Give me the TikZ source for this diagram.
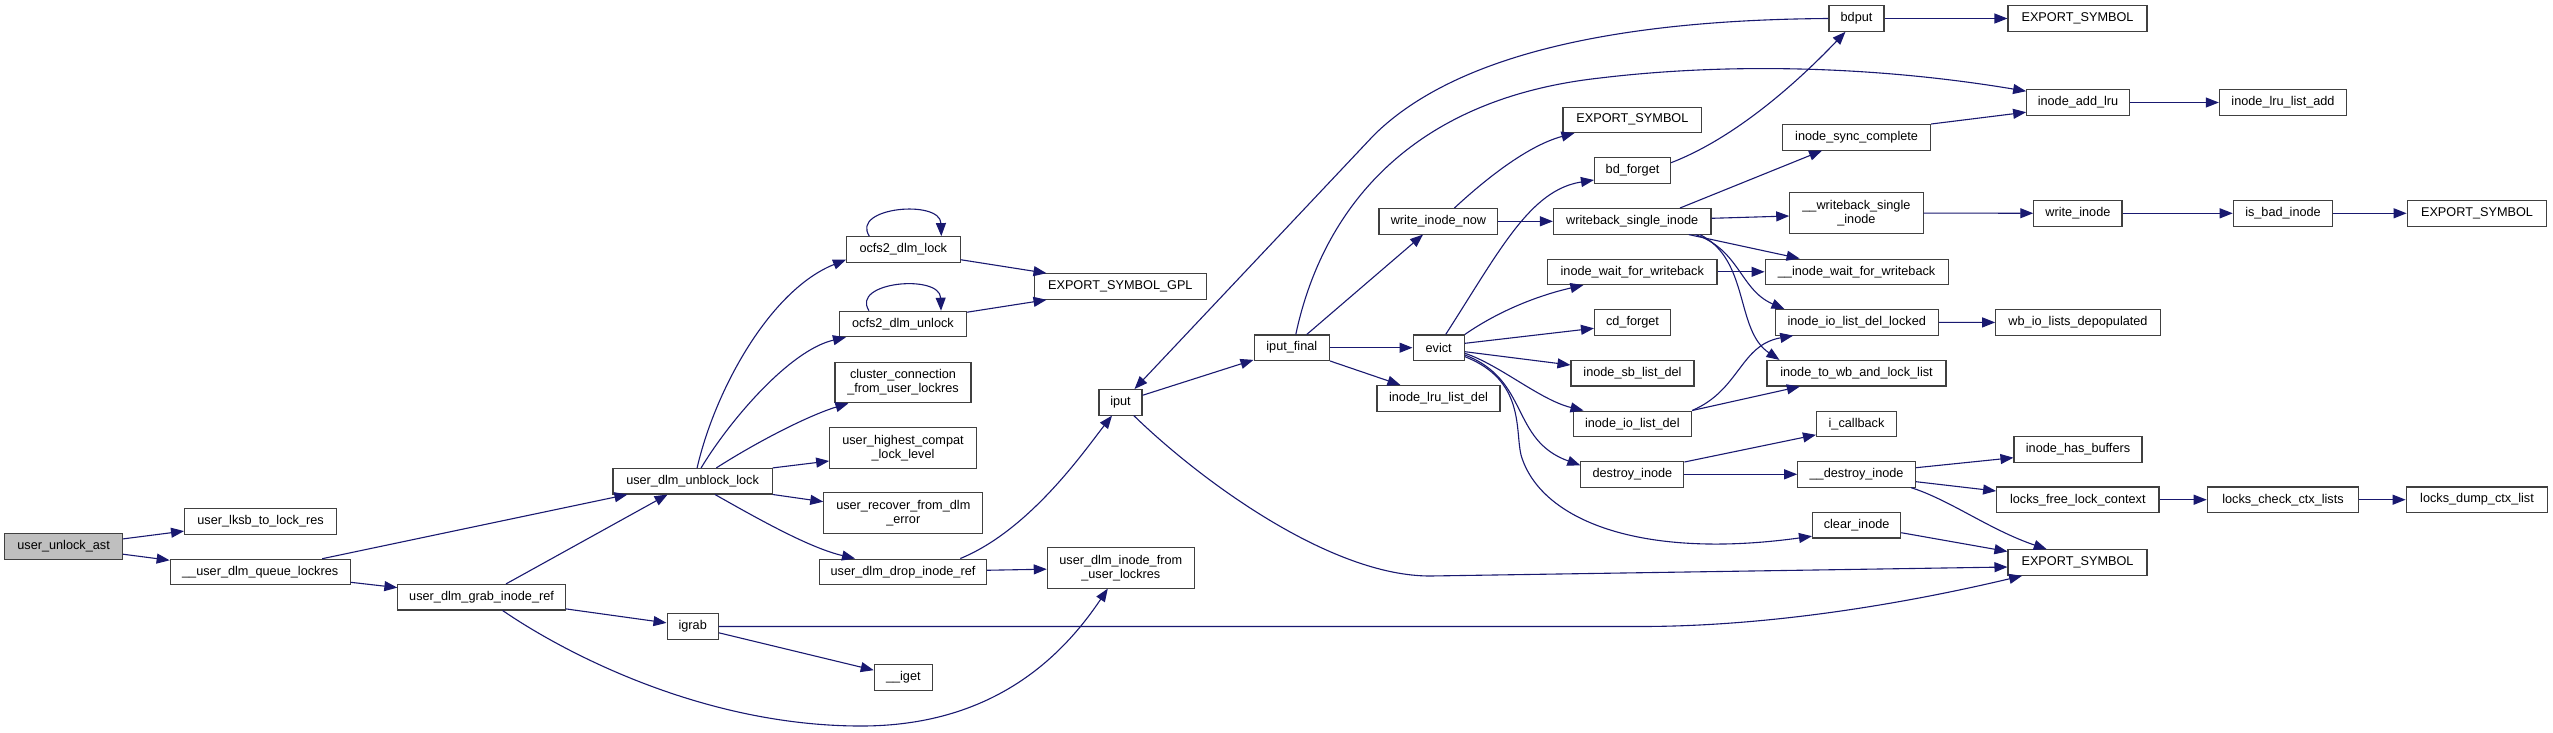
\documentclass[tikz,border=0pt]{standalone}
\usepackage{fontspec}
\setmainfont{Liberation Sans}
\usetikzlibrary{arrows.meta,calc}
\definecolor{edgec}{HTML}{191970}
\definecolor{boxc}{HTML}{404040}
\definecolor{rootc}{HTML}{BFBFBF}
\begin{document}
\begin{tikzpicture}[x=1pt,y=-1pt,
  box/.style={draw=boxc, line width=1.1pt, fill=white, inner sep=0pt, minimum height=25.5pt,
              font=\fontsize{12.7pt}{14pt}\selectfont, align=center},
  box2/.style={box, minimum height=40.5pt},
  e/.style={draw=edgec, line width=1.1pt, -{Triangle[length=13pt,width=10pt]}}]
\fill[white] (0,0) rectangle (2553,732);
\useasboundingbox (0,0) rectangle (2553,732);

% ---- nodes ----
\node[box, fill=rootc, minimum width=117.5] (unlockast) at (63.6,546.5) {user\_unlock\_ast};
\node[box, minimum width=152] (lksb) at (260.6,521.3) {user\_lksb\_to\_lock\_res};
\node[box, minimum width=180] (queue) at (260.2,572) {\_\_user\_dlm\_queue\_lockres};
\node[box, minimum width=167.4] (grab) at (481.6,597.2) {user\_dlm\_grab\_inode\_ref};
\node[box, minimum width=159.2] (unblock) at (692.6,481.2) {user\_dlm\_unblock\_lock};
\node[box, minimum width=113.5] (dlmlock) at (903.3,249.4) {ocfs2\_dlm\_lock};
\node[box, minimum width=127] (dlmunlock) at (903,324) {ocfs2\_dlm\_unlock};
\node[box2, minimum width=136] (cluster) at (903,382.5) {cluster\_connection\\\_from\_user\_lockres};
\node[box2, minimum width=146.6] (highest) at (903,448) {user\_highest\_compat\\\_lock\_level};
\node[box2, minimum width=159] (recover) at (903.3,513) {user\_recover\_from\_dlm\\\_error};
\node[box, minimum width=167] (drop) at (903,571.8) {user\_dlm\_drop\_inode\_ref};
\node[box, minimum width=172.5] (gpl) at (1120.3,286.5) {EXPORT\_SYMBOL\_GPL};
\node[box2, minimum width=147] (frominode) at (1120.8,567.8) {user\_dlm\_inode\_from\\\_user\_lockres};
\node[box, minimum width=51.3] (igrab) at (692.7,626.5) {igrab};
\node[box, minimum width=58] (iget) at (903.3,677.3) {\_\_iget};
\node[box, minimum width=43] (iput) at (1120.5,402.3) {iput};
\node[box, minimum width=75.5] (iputfinal) at (1291.8,347.7) {iput\_final};
\node[box, minimum width=123] (lrudel) at (1438.5,398.3) {inode\_lru\_list\_del};
\node[box, minimum width=51.3] (evict) at (1438.7,347.7) {evict};
\node[box, minimum width=118.8] (winow) at (1438.4,221.3) {write\_inode\_now};
\node[box, minimum width=138.8] (es2) at (1632.4,119.8) {EXPORT\_SYMBOL};
\node[box, minimum width=76] (bdforget) at (1632.5,170.5) {bd\_forget};
\node[box, minimum width=157.5] (wbsingle) at (1632.2,221.3) {writeback\_single\_inode};
\node[box, minimum width=169.3] (iwfw) at (1632.3,271.8) {inode\_wait\_for\_writeback};
\node[box, minimum width=76] (cdforget) at (1632.5,322.3) {cd\_forget};
\node[box, minimum width=123] (sbdel) at (1632.5,373.2) {inode\_sb\_list\_del};
\node[box, minimum width=118.5] (iodel) at (1632.3,423.8) {inode\_io\_list\_del};
\node[box, minimum width=103] (destroy) at (1632.4,474.3) {destroy\_inode};
\node[box, minimum width=55] (bdput) at (1856.5,18.5) {bdput};
\node[box, minimum width=148] (synccomplete) at (1856.6,137.3) {inode\_sync\_complete};
\node[box2, minimum width=133.3] (wbs2) at (1856.4,213) {\_\_writeback\_single\\\_inode};
\node[box, minimum width=183] (iwfw2) at (1856.6,271.8) {\_\_inode\_wait\_for\_writeback};
\node[box, minimum width=163.3] (iodellocked) at (1856.7,322.3) {inode\_io\_list\_del\_locked};
\node[box, minimum width=179] (towb) at (1856.5,373.2) {inode\_to\_wb\_and\_lock\_list};
\node[box, minimum width=80] (icallback) at (1856.5,423.8) {i\_callback};
\node[box, minimum width=117.7] (destroy2) at (1856.6,474.3) {\_\_destroy\_inode};
\node[box, minimum width=88.2] (clearinode) at (1856.6,525.2) {clear\_inode};
\node[box, minimum width=139] (es1) at (2077.5,18.5) {EXPORT\_SYMBOL};
\node[box, minimum width=102.7] (addlru) at (2078,102.5) {inode\_add\_lru};
\node[box, minimum width=88.2] (writeinode) at (2077.9,213.3) {write\_inode};
\node[box, minimum width=164.5] (wbdepop) at (2078,322.5) {wb\_io\_lists\_depopulated};
\node[box, minimum width=128] (hasbuffers) at (2078,449.3) {inode\_has\_buffers};
\node[box, minimum width=162.3] (freectx) at (2077.8,499.7) {locks\_free\_lock\_context};
\node[box, minimum width=139] (es3) at (2077.5,562.5) {EXPORT\_SYMBOL};
\node[box, minimum width=127.3] (lrulistadd) at (2283,102.5) {inode\_lru\_list\_add};
\node[box, minimum width=99.5] (isbad) at (2283,213.3) {is\_bad\_inode};
\node[box, minimum width=151.5] (checkctx) at (2283,499.7) {locks\_check\_ctx\_lists};
\node[box, minimum width=139.7] (es4) at (2477,213.3) {EXPORT\_SYMBOL};
\node[box, minimum width=141.7] (dumpctx) at (2477,499.7) {locks\_dump\_ctx\_list};

% ---- edges ----
\draw[e] (unlockast) -- (lksb);
\draw[e] (unlockast) -- (queue);
\draw[e] ($(queue.north)+(62,0)$) -- ($(unblock.south west)+(15,0)$);
\draw[e] (queue) -- (grab);
\draw[e] ($(grab.north)+(24.4,0)$) -- ($(unblock.south)+(-25,0)$);
\draw[e] (grab) -- (igrab);
\draw[e] ($(grab.south)+(21,0)$) .. controls (560,650) and (700,726) .. (861,726)
   .. controls (990,726) and (1060,660) .. ($(frominode.south)+(-13,0)$);
\draw[e] ($(unblock.north)+(4.5,0)$) .. controls (715,390) and (770,290) .. ($(dlmlock.south west)+(0,-3)$);
\draw[e] ($(unblock.north)+(8.5,0)$) .. controls (730,420) and (790,350) .. ($(dlmunlock.south west)+(7,0)$);
\draw[e] ($(unblock.north)+(23.7,0)$) .. controls (760,440) and (810,415) .. ($(cluster.south west)+(14,0)$);
\draw[e] (unblock.north east) -- ($(highest.west)+(0,13)$);
\draw[e] (unblock.south east) -- ($(recover.west)+(0,-11.3)$);
\draw[e] ($(unblock.south)+(22.4,0)$) .. controls (760,520) and (810,548) .. ($(drop.north)+(-48,0)$);
\draw[e] ($(dlmlock.north)+(-34,0)$) .. controls ($(dlmlock.north)+(-53,-29)$) and ($(dlmlock.north)+(37,-37)$) .. ($(dlmlock.north)+(38,0)$);
\draw[e] ($(dlmunlock.north)+(-34,0)$) .. controls ($(dlmunlock.north)+(-53,-29)$) and ($(dlmunlock.north)+(37,-37)$) .. ($(dlmunlock.north)+(38,0)$);
\draw[e] ($(dlmlock.south east)+(0,-3)$) -- ($(gpl.north west)+(13,0)$);
\draw[e] ($(dlmunlock.north east)+(0,1.5)$) -- ($(gpl.south west)+(13,0)$);
\draw[e] ($(drop.north)+(57.3,0)$) .. controls (1030,530) and (1085,450) .. ($(iput.south)+(-8.5,0)$);
\draw[e] (drop) -- (frominode);
\draw[e] (igrab.east) -- (1640,626.5) .. controls (1780,626.5) and (1920,600) .. ($(es3.south west)+(14.6,0)$);
\draw[e] (igrab) -- (iget);
\draw[e] (iput) -- (iputfinal);
\draw[e] ($(iput.south)+(13.3,0)$) .. controls (1200,480) and (1330,576) .. (1430,576) -- ($(es3.west)+(0,4.5)$);
\draw[e] (bdput.west) .. controls (1600,20) and (1450,60) .. (1374,135) -- ($(iput.north)+(14,0)$);
\draw[e] ($(iputfinal.north)+(4,0)$) .. controls (1320,220) and (1400,100) .. (1600,78)
   .. controls (1750,60) and (1900,70) .. ($(addlru.north west)+(0,2)$);
\draw[e] ($(iputfinal.north)+(15,0)$) -- ($(winow.south)+(-15.4,0)$);
\draw[e] (iputfinal) -- (evict);
\draw[e] (iputfinal.south east) -- ($(lrudel.north west)+(24,0)$);
\draw[e] ($(winow.north)+(16,0)$) .. controls (1490,175) and (1530,145) .. ($(es2.south west)+(12,0)$);
\draw[e] (winow) -- (wbsingle);
\draw[e] ($(evict.north)+(7,0)$) .. controls (1500,250) and (1530,190) .. ($(bdforget.west)+(0,9.5)$);
\draw[e] (evict.north east) .. controls (1500,310) and (1540,295) .. ($(iwfw.south west)+(36.3,0)$);
\draw[e] ($(evict.east)+(0,-4.4)$) -- ($(cdforget.west)+(0,6)$);
\draw[e] ($(evict.east)+(0,4)$) -- ($(sbdel.west)+(0,-8.2)$);
\draw[e] ($(evict.east)+(0,5.6)$) .. controls (1500,365) and (1540,400) .. ($(iodel.north west)+(11,0)$);
\draw[e] ($(evict.east)+(0,7.3)$) .. controls (1530,380) and (1510,440) .. ($(destroy.north west)+(0,4.3)$);
\draw[e] ($(evict.east)+(0,9)$) .. controls (1525,380) and (1515,430) .. (1521,455)
   .. controls (1540,520) and (1640,560) .. ($(clearinode.west)+(0,11)$);
\draw[e] ($(bdforget.east)+(0,-7.8)$) .. controls (1730,140) and (1790,90) .. ($(bdput.south west)+(17,0)$);
\draw[e] (bdput) -- (es1);
\draw[e] ($(wbsingle.north)+(47.8,0)$) -- ($(synccomplete.south west)+(40,0)$);
\draw[e] ($(wbsingle.east)+(0,-3)$) -- ($(wbs2.west)+(0,3)$);
\draw[e] ($(wbsingle.south)+(56.6,0)$) -- ($(iwfw2.north west)+(35,0)$);
\draw[e] ($(wbsingle.south)+(63.3,0)$) .. controls (1740,250) and (1740,290) .. ($(iodellocked.north west)+(10,0)$);
\draw[e] ($(wbsingle.south)+(67.8,0)$) .. controls (1750,260) and (1735,330) .. ($(towb.north west)+(13,0)$);
\draw[e] (iwfw) -- (iwfw2);
\draw[e] (synccomplete.north east) -- ($(addlru.south west)+(0,-3.6)$);
\draw[e] (addlru) -- (lrulistadd);
\draw[e] (wbs2) -- (writeinode);
\draw[e] (writeinode) -- (isbad);
\draw[e] (isbad) -- (es4);
\draw[e] (iodellocked) -- (wbdepop);
\draw[e] (iodel.north east) .. controls (1740,390) and (1740,345) .. ($(iodellocked.south west)+(18.7,0)$);
\draw[e] (iodel.north east) -- ($(towb.south west)+(33.4,0)$);
\draw[e] ($(destroy.north east)+(0,1)$) -- ($(icallback.west)+(0,11)$);
\draw[e] (destroy) -- (destroy2);
\draw[e] ($(destroy2.east)+(0,-6.6)$) -- ($(hasbuffers.west)+(0,8.4)$);
\draw[e] ($(destroy2.east)+(0,7.4)$) -- ($(freectx.west)+(0,-8.7)$);
\draw[e] ($(destroy2.south east)+(-5,0)$) .. controls (1950,500) and (1990,530) .. ($(es3.north west)+(39.3,0)$);
\draw[e] ($(clearinode.east)+(0,7.5)$) -- ($(es3.west)+(0,-11)$);
\draw[e] (freectx) -- (checkctx);
\draw[e] (checkctx) -- (dumpctx);
\end{tikzpicture}
\end{document}
